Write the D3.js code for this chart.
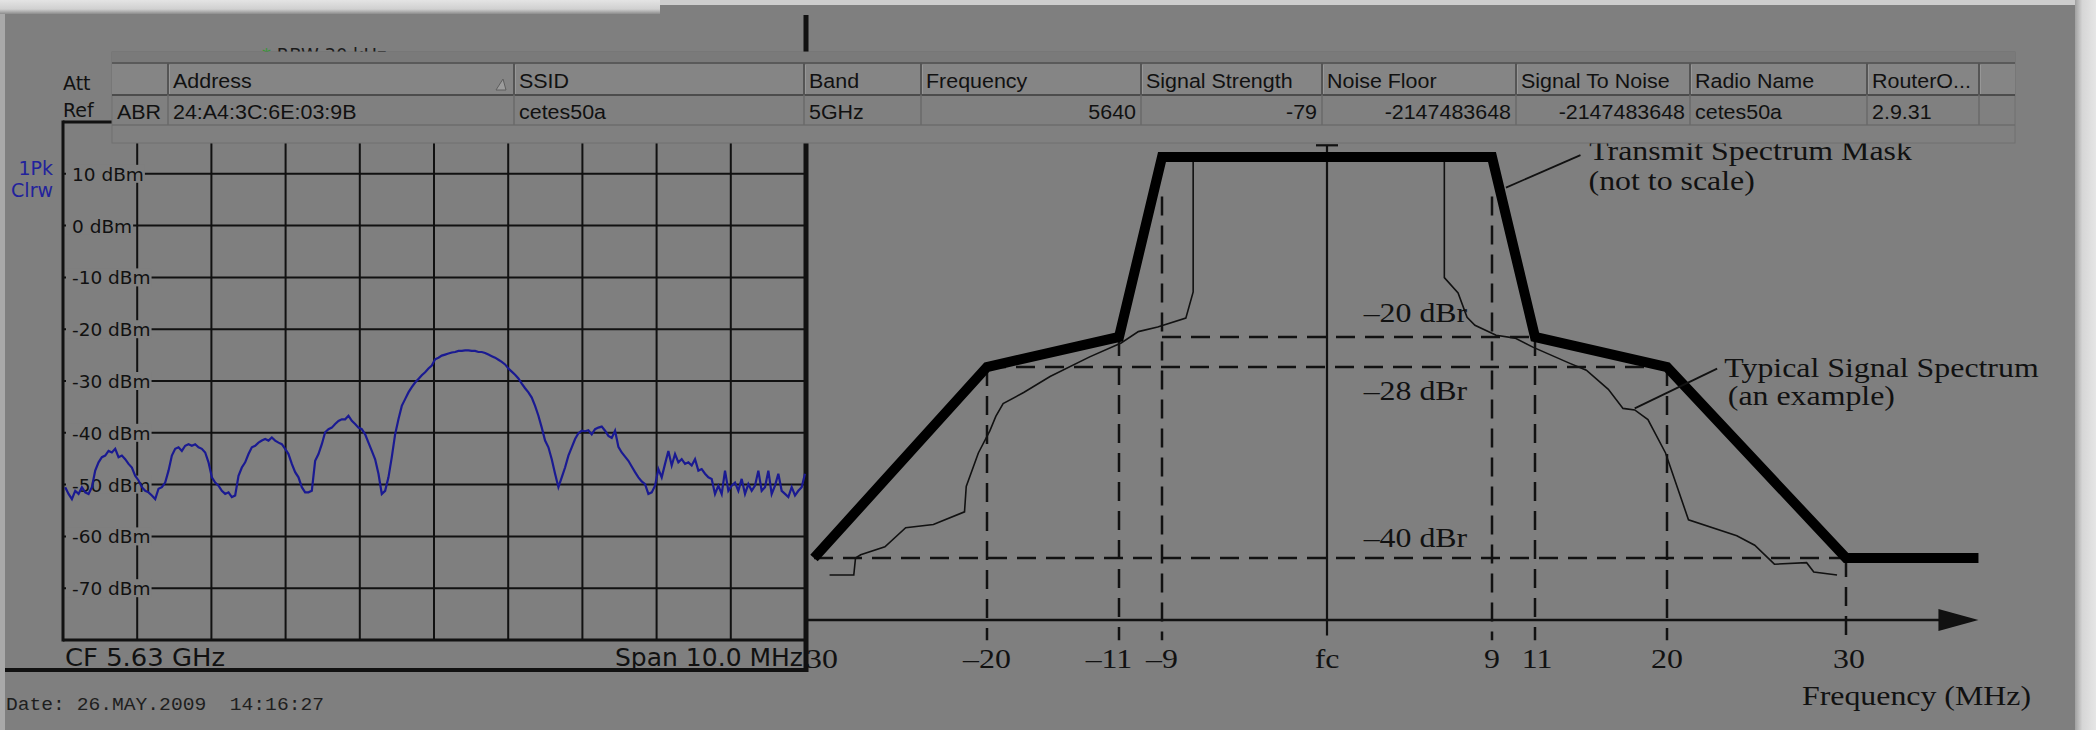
<!DOCTYPE html>
<html>
<head>
<meta charset="utf-8">
<script src="https://cdn.jsdelivr.net/npm/d3@7"></script>
<style>
html,body{margin:0;padding:0;background:#7f7f7f;overflow:hidden}
svg{display:block}
</style>
</head>
<body>
<svg id="chart" width="2096" height="730"></svg>
<script>
// ---------- data ----------
// spectrum analyzer sweep, dBm, evenly spaced across the 10 MHz span
const traceA = [
  -50.5, -51.8, -52.8, -51.2, -51.8, -50.5, -51.5, -51.8, -50.5, -47.3,
  -45.7, -44.7, -44.4, -43.5, -43.8, -43.1, -44.7, -44.4, -45.1, -46.0,
  -46.7, -48.3, -49.2, -50.5, -51.2, -51.5, -52.1, -52.8, -50.8, -50.5,
  -49.6, -47.3, -44.4, -43.1, -42.8, -43.5, -42.5, -42.2, -42.5, -42.2,
  -42.8, -43.1, -43.8, -45.7, -48.6, -49.6, -50.2, -51.2, -51.8, -51.5,
  -52.4, -52.1, -48.3, -46.7, -45.7, -44.1, -42.8, -42.5, -41.9, -41.5,
  -41.2, -41.5, -40.9, -41.5, -41.9, -42.2, -43.1, -44.1, -46.0, -47.6,
  -48.6, -50.5, -51.5, -51.5, -51.2, -45.4, -44.1, -42.2, -39.9, -39.3,
  -39.0, -38.3, -37.7, -37.4, -37.4, -36.7, -37.7, -38.3, -39.0, -39.3,
  -40.3, -41.9, -43.5, -45.1, -47.9, -51.8, -51.2, -48.6, -44.7, -40.3,
  -37.4, -34.8, -33.5, -32.2, -31.2, -30.3, -29.6, -28.9, -28.3, -27.6, -27.0
];
const traceB = [
  -25.8, -25.5, -25.1, -24.9, -24.7, -24.5, -24.4, -24.2, -24.2, -24.1,
  -24.1, -24.2, -24.2, -24.4, -24.4, -24.6, -24.9, -25.2, -25.5, -25.9,
  -26.3, -26.8, -27.6, -28.2, -28.8, -29.5, -30.5, -31.4, -32.2, -33.2,
  -34.8, -36.7, -39.0, -41.5, -42.8, -45.1, -47.9, -50.5, -48.6, -46.7,
  -44.4, -42.8, -41.2, -40.1, -39.6, -39.7, -39.5, -40.3, -39.3, -39.0,
  -38.8, -39.6, -40.6, -41.0, -39.6, -42.7, -43.8, -44.6, -45.4, -46.5,
  -47.6, -48.6, -49.4, -49.9, -51.8, -51.5, -50.2, -47.0, -48.6, -46.0,
  -43.5, -46.3, -44.1, -45.7, -45.1, -46.0, -45.7, -46.3, -45.1, -47.3,
  -47.0, -47.9, -48.6, -48.9, -51.8, -50.2, -51.8, -47.3, -51.2, -50.2,
  -49.6, -51.2, -48.9, -51.8, -49.9, -51.2, -50.2, -47.3, -51.2, -50.5,
  -47.3, -51.8, -50.2, -47.9, -51.2, -51.8, -52.4, -50.5, -52.1, -51.2,
  -50.5, -47.9
];
const sweepStart = -4.97, sweepStop = 5.0;   // MHz from CF

// wifi scanner table
const colHeaders = ['', 'Address', 'SSID', 'Band', 'Frequency', 'Signal Strength', 'Noise Floor',
  'Signal To Noise', 'Radio Name', 'RouterO...', ''];
const rowValues = ['ABR', '24:A4:3C:6E:03:9B', 'cetes50a', '5GHz', '5640', '-79', '-2147483648',
  '-2147483648', 'cetes50a', '2.9.31', ''];
const rowAlign = ['start', 'start', 'start', 'start', 'end', 'end', 'end', 'end', 'start', 'start', 'start'];

// transmit spectrum mask (MHz, dBr)
const maskMHz = [-30, -20, -11, -9, 9, 11, 20, 30, 37.4];
const maskDBr = [-40, -28, -20, 0, 0, -20, -28, -40, -40];
// typical signal spectrum, two halves
const sigLeftMHz = [-7.3, -7.3, -7.7, -9.2, -10.1, -10.9, -13.0, -15.7, -17.5, -18.9, -19.4,
  -19.8, -20.5, -21.2, -21.3, -23.1, -24.7, -25.9, -27.3, -27.6, -27.7, -29.1];
const sigLeftDBr = [0, -15.0, -17.9, -18.9, -19.4, -21.6, -25.3, -28.6, -29.6, -30.3, -31.1,
  -32.0, -33.4, -35.5, -37.1, -37.9, -38.1, -39.3, -39.8, -40.0, -41.1, -41.1];
const sigRightMHz = [6.4, 6.4, 7.15, 7.64, 8.07, 9.19, 10.07, 10.9, 13.3, 14.5, 16.0, 17.0,
  17.8, 18.7, 19.9, 21.2, 23.9, 24.9, 26.0, 27.8, 28.2, 29.5];
const sigRightDBr = [0, -13.4, -15.1, -17.8, -18.7, -19.8, -20.3, -22.7, -26.9, -28.2, -29.4, -30.6,
  -30.7, -31.3, -33.4, -37.6, -38.6, -39.2, -40.4, -40.3, -40.9, -41.1];
const tickMHz = [-30, -20, -11, -9, 0, 9, 11, 20, 30];
const tickText = ['\u201330', '\u201320', '\u201311', '\u20139', 'fc', '9', '11', '20', '30'];
const refLevels = [-20, -28, -40];
const refLabels = ['\u201320 dBr', '\u201328 dBr', '\u201340 dBr'];
const dashH = [{ dbr: -20, from: -9, to: 11 }, { dbr: -28, from: -20, to: 20 }, { dbr: -40, from: -30, to: 30 }];
const dashV = [{ mhz: -20, top: -28 }, { mhz: -11, top: -20 }, { mhz: -9, top: -4.4 }, { mhz: 9, top: -4.4 },
  { mhz: 11, top: -20 }, { mhz: 20, top: -28 }, { mhz: 30, top: -40 }];

// ---------- drawing ----------
const W = 2096, H = 730, BG = '#7f7f7f', INK = '#111';
const svg = d3.select('#chart');
const defs = svg.append('defs');

svg.append('rect').attr('width', W).attr('height', H).attr('fill', BG);

// washed-out screenshot edges
const gTop = defs.append('linearGradient').attr('id', 'gTop').attr('x1', 0).attr('y1', 0).attr('x2', 0).attr('y2', 1);
gTop.append('stop').attr('offset', '0%').attr('stop-color', '#e4e4e4');
gTop.append('stop').attr('offset', '65%').attr('stop-color', '#d0d0d0');
gTop.append('stop').attr('offset', '100%').attr('stop-color', '#8c8c8c');
const gRight = defs.append('linearGradient').attr('id', 'gRight');
gRight.append('stop').attr('offset', '0%').attr('stop-color', '#a0a0a0');
gRight.append('stop').attr('offset', '35%').attr('stop-color', '#d6d6d6');
gRight.append('stop').attr('offset', '100%').attr('stop-color', '#e6e6e6');
svg.append('rect').attr('x', 0).attr('y', 0).attr('width', 660).attr('height', 14).attr('fill', 'url(#gTop)');
svg.append('rect').attr('x', 660).attr('y', 0).attr('width', 1436).attr('height', 5).attr('fill', '#cdcdcd');
svg.append('rect').attr('x', 2075).attr('y', 0).attr('width', 21).attr('height', H).attr('fill', 'url(#gRight)');
svg.append('rect').attr('x', 0).attr('y', 14).attr('width', 5).attr('height', H - 14).attr('fill', '#a9a9a9');

// ===== right: transmit spectrum mask figure =====
defs.append('clipPath').attr('id', 'clipR')
  .append('rect').attr('x', 808).attr('y', 0).attr('width', 1270).attr('height', H);
const fig = svg.append('g').attr('clip-path', 'url(#clipR)');

const xR = d3.scaleLinear().domain(tickMHz).range([814, 987, 1119, 1162, 1327, 1492, 1535, 1667, 1846]);
const yR = d3.scaleLinear().domain([-44, -40, -28, -20, 0]).range([620, 558, 367, 337, 157]);
const axisDBr = -44, dashBottom = -45.3, axisTip = 37.4;

function serif(g, x, y, str, anchor) {
  return g.append('text')
    .attr('transform', `translate(${x},${y}) scale(1.18,1)`)
    .attr('text-anchor', anchor || 'start')
    .attr('font-family', '"Liberation Serif", "Times New Roman", serif')
    .attr('font-size', 27).attr('fill', INK).text(str);
}

// dashed reference lines
dashH.forEach(d => fig.append('line')
  .attr('x1', xR(d.from)).attr('x2', xR(d.to)).attr('y1', yR(d.dbr)).attr('y2', yR(d.dbr))
  .attr('stroke', INK).attr('stroke-width', 2.5).attr('stroke-dasharray', '19,10'));
dashV.forEach(d => fig.append('line')
  .attr('x1', xR(d.mhz)).attr('x2', xR(d.mhz)).attr('y1', yR(d.top)).attr('y2', yR(dashBottom))
  .attr('stroke', INK).attr('stroke-width', 2.5).attr('stroke-dasharray', '19,10'));

// frequency axis with arrow
fig.append('line').attr('x1', xR(-32)).attr('x2', xR(axisTip) - 36)
  .attr('y1', yR(axisDBr)).attr('y2', yR(axisDBr)).attr('stroke', INK).attr('stroke-width', 2.5);
fig.append('path')
  .attr('d', `M${xR(axisTip)},${yR(axisDBr)} L${xR(axisTip) - 40},${yR(axisDBr) - 11} L${xR(axisTip) - 40},${yR(axisDBr) + 11} Z`)
  .attr('fill', INK);
// centre line with cap
fig.append('line').attr('x1', xR(0)).attr('x2', xR(0)).attr('y1', yR(1.3)).attr('y2', yR(-45))
  .attr('stroke', INK).attr('stroke-width', 2.2);
fig.append('line').attr('x1', xR(0) - 11).attr('x2', xR(0) + 11).attr('y1', yR(1.3)).attr('y2', yR(1.3))
  .attr('stroke', INK).attr('stroke-width', 2.2);

// typical signal spectrum
const sigLine = d3.line().x(d => xR(d[0])).y(d => yR(d[1]));
[[sigLeftMHz, sigLeftDBr], [sigRightMHz, sigRightDBr]].forEach(([xs, ys]) =>
  fig.append('path').datum(d3.zip(xs, ys)).attr('d', sigLine)
    .attr('fill', 'none').attr('stroke', INK).attr('stroke-width', 1.6));

// mask
fig.append('path').datum(d3.zip(maskMHz, maskDBr)).attr('d', sigLine)
  .attr('fill', 'none').attr('stroke', '#000').attr('stroke-width', 10).attr('stroke-linejoin', 'miter');

// leaders + annotations
fig.append('path').datum([[9.65, -3.4], [14.1, 0.2]]).attr('d', sigLine)
  .attr('stroke', INK).attr('stroke-width', 1.8);
fig.append('path').datum([[17.8, -30.6], [22.8, -28.1]]).attr('d', sigLine)
  .attr('stroke', INK).attr('stroke-width', 1.8);
serif(fig, xR(14.7), yR(-0.33), 'Transmit Spectrum Mask');
serif(fig, xR(14.65), yR(-3.67), '(not to scale)');
serif(fig, xR(23.2), yR(-28.6), 'Typical Signal Spectrum');
serif(fig, xR(23.4), yR(-30.4), '(an example)');

const refDy = [-15, 33, -11];
refLevels.forEach((v, i) => serif(fig, xR(2), yR(v) + refDy[i], refLabels[i]));

const tickNudge = [0, 0, -10, 0, 0, 0, 2, 0, 3];
tickMHz.forEach((m, i) => serif(fig, xR(m) + tickNudge[i], 668, tickText[i], 'middle'));
serif(fig, 1802, 705, 'Frequency (MHz)');

// ===== left: spectrum analyzer screen =====
const xA = d3.scaleLinear().domain([-5, 5]).range([63, 805]);
const yA = d3.scaleLinear().domain([-80, 20]).range([640, 122]);
const ana = svg.append('g');
const SANS = '"DejaVu Sans", Verdana, sans-serif';

xA.ticks(10).slice(1, -1).forEach(t => ana.append('line')
  .attr('x1', xA(t)).attr('x2', xA(t)).attr('y1', yA(20)).attr('y2', yA(-80))
  .attr('stroke', INK).attr('stroke-width', 2));
yA.ticks(10).slice(1, -1).forEach(t => ana.append('line')
  .attr('x1', xA(-5)).attr('x2', xA(5)).attr('y1', yA(t)).attr('y2', yA(t))
  .attr('stroke', INK).attr('stroke-width', 2));

// level labels sit on top of the grid with a screen-coloured backing
yA.ticks(10).slice(1, -1).forEach(t => {
  const lab = ana.append('text').attr('x', 72).attr('y', yA(t) + 7)
    .attr('font-family', SANS).attr('font-size', 18.5).attr('fill', INK).text(`${t} dBm`);
  const bb = lab.node().getBBox();
  ana.insert('rect', () => lab.node())
    .attr('x', 66).attr('y', yA(t) - 9).attr('width', bb.x + bb.width - 66 + 1).attr('height', 18)
    .attr('fill', BG);
});

// frame
ana.append('line').attr('x1', xA(-5)).attr('x2', xA(-5)).attr('y1', yA(20) - 1.5).attr('y2', yA(-80) + 1.5)
  .attr('stroke', INK).attr('stroke-width', 3);
ana.append('line').attr('x1', xA(-5)).attr('x2', xA(5)).attr('y1', yA(20)).attr('y2', yA(20))
  .attr('stroke', INK).attr('stroke-width', 3);
ana.append('line').attr('x1', xA(-5)).attr('x2', xA(5)).attr('y1', yA(-80)).attr('y2', yA(-80))
  .attr('stroke', INK).attr('stroke-width', 3);
ana.append('line').attr('x1', 806).attr('x2', 806).attr('y1', 15).attr('y2', 672)
  .attr('stroke', INK).attr('stroke-width', 5);
ana.append('line').attr('x1', 5).attr('x2', 808).attr('y1', 670).attr('y2', 670)
  .attr('stroke', INK).attr('stroke-width', 4);

// trace
const traceDBm = traceA.concat(traceB);
const sweep = d3.scaleLinear().domain([0, traceDBm.length - 1]).range([sweepStart, sweepStop]);
ana.append('path').datum(traceDBm)
  .attr('d', d3.line().x((d, i) => xA(sweep(i))).y(d => yA(d)))
  .attr('fill', 'none').attr('stroke', '#1a1a92').attr('stroke-width', 2.2);

// screen texts
const sText = (x, y, str, size, fill, anchor) => ana.append('text').attr('x', x).attr('y', y)
  .attr('font-family', SANS).attr('font-size', size).attr('fill', fill)
  .attr('text-anchor', anchor || 'start').text(str);
sText(63, 90, 'Att', 19, INK);
sText(63, 117, 'Ref', 19, INK);
sText(53, 175, '1Pk', 19, '#22229c', 'end');
sText(53, 197, 'Clrw', 19, '#22229c', 'end');
const rbw = sText(262, 61, '', 18, '#1a1a1a');
rbw.append('tspan').attr('fill', '#2f9a2f').text('* ');
rbw.append('tspan').text('RBW 30 kHz');
sText(65, 666, 'CF 5.63 GHz', 25, INK).attr('textLength', 160).attr('lengthAdjust', 'spacingAndGlyphs');
sText(803, 666, 'Span 10.0 MHz', 25, INK, 'end').attr('textLength', 188).attr('lengthAdjust', 'spacingAndGlyphs');
ana.append('text').attr('x', 6).attr('y', 710)
  .attr('font-family', '"Liberation Mono", "Courier New", monospace').attr('font-size', 18)
  .attr('fill', '#1e1e1e').attr('textLength', 318).attr('lengthAdjust', 'spacingAndGlyphs')
  .attr('xml:space', 'preserve').style('white-space', 'pre')
  .text('Date: 26.MAY.2009  14:16:27');

// ===== wifi scanner table (overlay) =====
const colEdges = [112, 168, 514, 804, 921, 1141, 1322, 1516, 1690, 1867, 1979, 2015];
const tb = svg.append('g');
const T = { top: 52, head: 63, split: 95, rowEnd: 125, bottom: 143 };
tb.append('rect').attr('x', colEdges[0]).attr('y', T.top)
  .attr('width', colEdges[colEdges.length - 1] - colEdges[0]).attr('height', T.bottom - T.top)
  .attr('fill', '#808080').attr('stroke', '#717171').attr('stroke-width', 1);
tb.append('rect').attr('x', colEdges[0]).attr('y', T.top)
  .attr('width', colEdges[colEdges.length - 1] - colEdges[0]).attr('height', T.head - T.top)
  .attr('fill', '#7a7a7a');
tb.append('rect').attr('x', colEdges[0]).attr('y', T.head)
  .attr('width', colEdges[colEdges.length - 1] - colEdges[0]).attr('height', T.split - T.head)
  .attr('fill', '#858585');
[[T.head, '#5a5a5a', 2], [T.split, '#4c4c4c', 2], [T.rowEnd, '#6c6c6c', 1.5]].forEach(([y, c, w]) =>
  tb.append('line').attr('x1', colEdges[0]).attr('x2', colEdges[colEdges.length - 1])
    .attr('y1', y).attr('y2', y).attr('stroke', c).attr('stroke-width', w));
colEdges.slice(1, -1).forEach(x => {
  tb.append('line').attr('x1', x).attr('x2', x).attr('y1', T.head).attr('y2', T.split)
    .attr('stroke', '#555').attr('stroke-width', 2);
  tb.append('line').attr('x1', x + 1.5).attr('x2', x + 1.5).attr('y1', T.head + 2).attr('y2', T.split - 1)
    .attr('stroke', '#979797').attr('stroke-width', 1);
  tb.append('line').attr('x1', x).attr('x2', x).attr('y1', T.split).attr('y2', T.rowEnd)
    .attr('stroke', '#6a6a6a').attr('stroke-width', 1.5);
});

const cellText = (x, y, str, anchor) => tb.append('text')
  .attr('transform', `translate(${x},${y}) scale(1.1,1)`)
  .attr('text-anchor', anchor).attr('font-family', '"Liberation Sans", Arial, sans-serif')
  .attr('font-size', 19.5).attr('fill', INK).text(str);
colHeaders.forEach((h, i) => { if (h) cellText(colEdges[i] + 5, 88, h, 'start'); });
rowValues.forEach((v, i) => {
  if (!v) return;
  const x = rowAlign[i] === 'end' ? colEdges[i + 1] - 5 : colEdges[i] + 5;
  cellText(x, 119, v, rowAlign[i]);
});
// sort indicator in Address header
tb.append('path').attr('d', `M${colEdges[2] - 18},90 L${colEdges[2] - 8},90 L${colEdges[2] - 11},79 Z`)
  .attr('fill', '#9c9c9c').attr('stroke', '#5e5e5e').attr('stroke-width', 1);
</script>
</body>
</html>
